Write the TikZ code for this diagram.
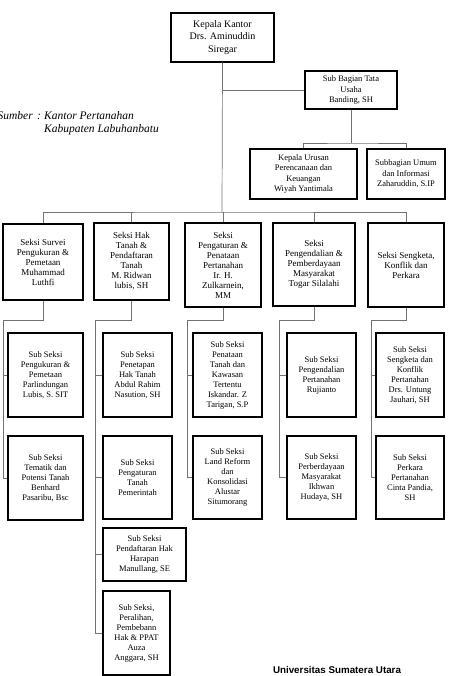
\documentclass[tikz,border=0pt]{standalone}
\usepackage{fontspec}
\setmainfont{Liberation Serif}
\newfontfamily\usufont{Liberation Sans}
\usepackage{tikz}
\newcommand\besar{\fontsize{10}{12.5}\selectfont}
\newcommand\sedang{\fontsize{8.5}{10.5}\selectfont}
\newcommand\kecil{\fontsize{8.5}{10}\selectfont}

\begin{document}
\begin{tikzpicture}[x=1pt,y=-1pt,
	kotak/.style={draw,line width=1.5pt,align=center,inner sep=1pt,font=\kecil},
	ukuran/.style 2 args={minimum width=#1pt,minimum height=#2pt},
	garis/.style={draw=black!55,line width=.7pt},
	sumber/.style={inner sep=0,font=\fontsize{11.5}{13}\itshape}]
	\useasboundingbox (0,0) rectangle (448,676);
	% pimpinan dan sub bagian
	\node[kotak,ukuran={103}{49},font=\besar] (kk) at (222.5,37.5) {Kepala Kantor\\Drs. Aminuddin\\Siregar};
	\node[kotak,ukuran={92}{38},font=\sedang] (sbt) at (351,90) {Sub Bagian Tata\\Usaha\\Banding, SH};
	\node[kotak,ukuran={107}{50},font=\sedang] (kur) at (303.5,174) {Kepala Urusan\\Perencanaan dan\\Keuangan\\Wiyah Yantimala};
	\node[kotak,ukuran={78}{50},font=\sedang] (sbu) at (406,174) {Subbagian Umum\\dan Informasi\\Zaharuddin, S.IP};
	% seksi
	\node[kotak,ukuran={80}{76},font=\fontsize{9}{10}\selectfont] (s1) at (43,262) {Seksi Survei\\Pengukuran \&\\Pemetaan\\Muhammad\\Luthfi};
	\node[kotak,ukuran={75}{77},font=\fontsize{9}{10}\selectfont] (s2) at (131.5,261.5) {Seksi Hak\\Tanah \&\\Pendaftaran\\Tanah\\M. Ridwan\\lubis, SH};
	\node[kotak,ukuran={76}{84},font=\fontsize{9}{10}\selectfont] (s3) at (223,265) {Seksi\\Pengaturan \&\\Penataan\\Pertanahan\\Ir. H.\\Zulkarnein,\\MM};
	\node[kotak,ukuran={82}{83},font=\fontsize{9}{10}\selectfont] (s4) at (314,264.5) {Seksi\\Pengendalian \&\\Pemberdayaan\\Masyarakat\\Togar Silalahi};
	\node[kotak,ukuran={76}{84},font=\fontsize{9}{10}\selectfont] (s5) at (406,265) {Seksi Sengketa,\\Konflik dan\\Perkara};
	% sub seksi
	\node[kotak,ukuran={75}{84}] (a1) at (45.5,375) {Sub Seksi\\Pengukuran \&\\Pemetaan\\Parlindungan\\Lubis, S. SIT};
	\node[kotak,ukuran={75}{84}] (a2) at (45.5,478) {Sub Seksi\\Tematik dan\\Potensi Tanah\\Benhard\\Pasaribu, Bsc};
	\node[kotak,ukuran={69}{84}] (b1) at (137.5,375) {Sub Seksi\\Penetapan\\Hak Tanah\\Abdul Rahim\\Nasution, SH};
	\node[kotak,ukuran={69}{83}] (b2) at (137.5,477.5) {Sub Seksi\\Pengaturan\\Tanah\\Pemerintah};
	\node[kotak,ukuran={83}{53}] (b3) at (144.5,554.5) {Sub Seksi\\Pendaftaran Hak\\Harapan\\Manullang, SE};
	\node[kotak,ukuran={67}{84}] (b4) at (136.5,633) {Sub Seksi,\\Peralihan,\\Pembebann\\Hak \& PPAT\\Auza\\Anggara, SH};
	\node[kotak,ukuran={69}{84}] (c1) at (227.5,375) {Sub Seksi\\Penataan\\Tanah dan\\Kawasan\\Tertentu\\Iskandar. Z\\Tarigan, S.P};
	\node[kotak,ukuran={69}{83}] (c2) at (227.5,477.5) {Sub Seksi\\Land Reform\\dan\\Konsolidasi\\Alustar\\Situmorang};
	\node[kotak,ukuran={69}{84}] (d1) at (321.5,375) {Sub Seksi\\Pengendalian\\Pertanahan\\Rujianto};
	\node[kotak,ukuran={69}{83}] (d2) at (321.5,477.5) {Sub Seksi\\Perberdayaan\\Masyarakat\\Ikhwan\\Hudaya, SH};
	\node[kotak,ukuran={68}{84}] (e1) at (410,375) {Sub Seksi\\Sengketa dan\\Konflik\\Pertanahan\\Drs. Untung\\Jauhari, SH};
	\node[kotak,ukuran={68}{83}] (e2) at (410,477.5) {Sub Seksi\\Perkara\\Pertanahan\\Cinta Pandia,\\SH};
	% garis
	\coordinate (bus) at (222,212);
	\coordinate (cab) at (351,143);
	\draw[garis] (kk.south) -- (bus);
	\draw[garis] (kk.south |- sbt.west) -- (sbt.west);
	\draw[garis] (sbt.south) -- (cab);
	\draw[garis] (kur.north) |- (cab) -| (sbu.north);
	\draw[garis] (s1.north) |- (bus) -| (s5.north);
	\foreach \s in {s2,s3,s4}
		\draw[garis] (\s.north) -- (\s.north |- bus);
	\coordinate (ta) at (3,320);
	\coordinate (tb) at (95,320);
	\coordinate (tc) at (187,320);
	\coordinate (td) at (279,320);
	\coordinate (te) at (371,320);
	\foreach \s/\k/\t in {s1/ta/a2, s2/tb/b4, s3/tc/c2, s4/td/d2, s5/te/e2}
		\draw[garis] (\s.south) |- (\k) |- (\t.west);
	\foreach \k/\t in {ta/a1, tb/b1, tb/b2, tb/b3, tc/c1, td/d1, te/e1}
		\draw[garis] (\k |- \t.west) -- (\t.west);
	% sumber
	\node[sumber,anchor=base east] (smb) at (33,120) {Sumber};
	\node[sumber,anchor=base] (tdk) at (39,120) {:};
	\node[sumber,anchor=base west] (ktr) at (44,120) {Kantor Pertanahan};
	\node[sumber,anchor=base west] (kab) at (44,133) {Kabupaten Labuhanbatu};
	\node[anchor=base,inner sep=0,font=\usufont\bfseries\fontsize{9.8}{12}\selectfont] (usu) at (337,673) {Universitas Sumatera Utara};
\end{tikzpicture}
\end{document}
